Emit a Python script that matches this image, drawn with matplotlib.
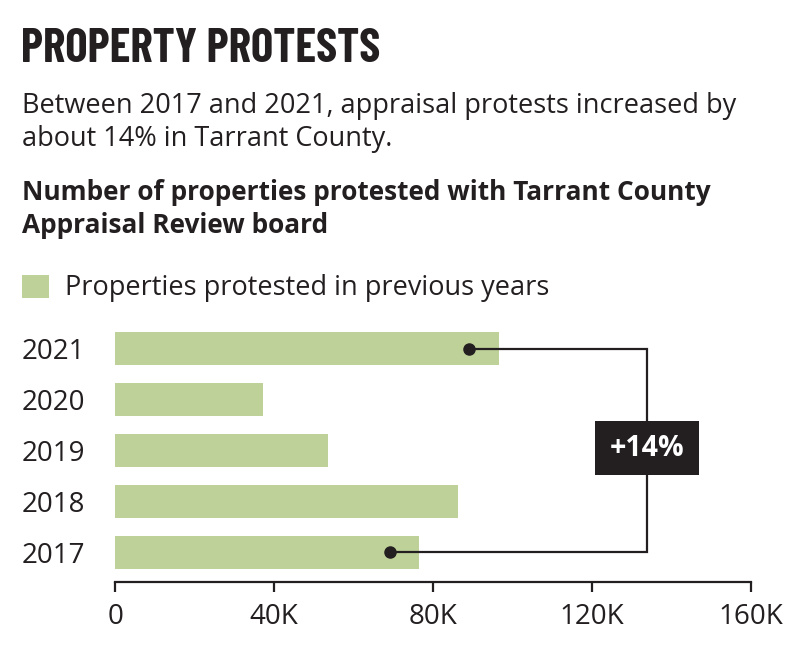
import matplotlib
matplotlib.use("Agg")
import matplotlib.pyplot as plt
from matplotlib.patches import Rectangle

# ---------------- Data ----------------
years = ["2017", "2018", "2019", "2020", "2021"]
protests_k = [76.6, 86.2, 53.5, 37.2, 96.5]   # thousands of properties
x_ticks = [0, 40, 80, 120, 160]
x_tick_labels = ["0", "40K", "80K", "120K", "160K"]

# bracket annotation (thousands)
dot_2021_k = 89.0
dot_2017_k = 69.2
bracket_x_k = 134.0
change_label = "+14%"

BAR = "#bed199"
INK = "#231f20"
BODY = ["Open Sans", "DejaVu Sans"]
HEAD = ["Barlow Condensed", "Archivo Narrow", "DejaVu Sans"]

W, H = 800, 647
fig = plt.figure(figsize=(W / 100, H / 100), dpi=100)


def fy(px):
    return 1 - px / H


# ---------------- Headline texts ----------------
fig.text(21 / W, fy(62), "PROPERTY PROTESTS", family=HEAD,
         fontweight="bold", fontsize=34, color=INK, va="baseline")
fig.text(22 / W, fy(113), "Between 2017 and 2021, appraisal protests increased by",
         family=BODY, fontsize=19.5, color=INK, va="baseline")
fig.text(22 / W, fy(146), "about 14% in Tarrant County.",
         family=BODY, fontsize=19.5, color=INK, va="baseline")
fig.text(22 / W, fy(200), "Number of properties protested with Tarrant County",
         family=BODY, fontweight="bold", fontsize=18.9, color=INK, va="baseline")
fig.text(22 / W, fy(233), "Appraisal Review board",
         family=BODY, fontweight="bold", fontsize=18.9, color=INK, va="baseline")

# legend
fig.patches.append(Rectangle((22 / W, fy(298)), 27 / W, 23 / H, transform=fig.transFigure,
                             facecolor=BAR, edgecolor="none"))
fig.text(65 / W, fy(295), "Properties protested in previous years",
         family=BODY, fontsize=19.5, color=INK, va="baseline")

# ---------------- Bar chart ----------------
ax = fig.add_axes([115.3 / W, fy(581.7), 635.4 / W, (581.7 - 318) / H])
ypos = list(range(len(years)))
ax.barh(ypos, protests_k, height=0.65, color=BAR, zorder=2)

ax.set_xlim(0, 160)
ax.set_ylim(-0.583, 4.6)
ax.set_xticks(x_ticks)
ax.set_xticklabels(x_tick_labels, family=BODY, fontsize=20, color=INK)
ax.set_yticks(ypos)
ax.set_yticklabels(years, family=BODY, fontsize=20, color=INK)
ax.tick_params(axis="y", length=0, pad=22)
ax.tick_params(axis="x", length=7.5, width=1.6, color=INK, pad=8)

for s in ["top", "right", "left"]:
    ax.spines[s].set_visible(False)
ax.spines["bottom"].set_color(INK)
ax.spines["bottom"].set_linewidth(1.6)

# bracket connecting 2021 and 2017
ax.plot([dot_2021_k, bracket_x_k, bracket_x_k, dot_2017_k], [4, 4, 0, 0],
        color=INK, linewidth=1.6, zorder=3, solid_joinstyle="miter")
ax.plot([dot_2021_k, dot_2017_k], [4, 0], "o", color=INK, markersize=8, zorder=4)

ax.add_patch(Rectangle((120.8, 1.507), 26.2, 1.067, facecolor=INK, edgecolor="none", zorder=5))
ax.text(bracket_x_k, 2.04, change_label, color="white", fontweight="bold", family=BODY,
        fontsize=20.5, ha="center", va="center", zorder=6)

fig.savefig("out.png", dpi=100)
